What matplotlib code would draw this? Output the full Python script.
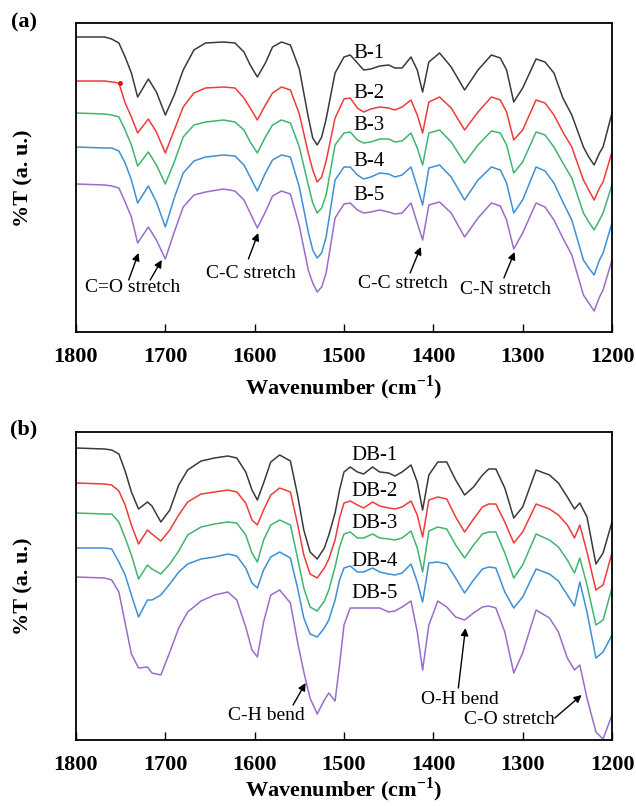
import matplotlib.pyplot as plt

plt.rcParams['font.family'] = 'Liberation Serif'
plt.rcParams['mathtext.fontset'] = 'custom'
plt.rcParams['mathtext.rm'] = 'Liberation Serif'
plt.rcParams['mathtext.bf'] = 'Liberation Serif:bold'

# ------------------------------------------- Panel (a) spectra (offset, a.u.) -------------------------------------- #
wn_a = [1800, 1768, 1760, 1752, 1745, 1738, 1731, 1719, 1710, 1700, 1690, 1680, 1668, 1655, 1635, 1622, 1612, 1605,
        1597, 1588, 1580, 1570, 1560, 1550, 1540, 1535, 1530, 1525, 1520, 1510, 1500, 1493, 1485, 1478, 1470, 1460,
        1450, 1443, 1435, 1425, 1418, 1412, 1405, 1393, 1380, 1365, 1350, 1335, 1325, 1318, 1310, 1300, 1285, 1275,
        1265, 1255, 1245, 1232, 1226, 1220, 1214, 1210, 1200]
b1 = [295, 295, 293, 289, 275, 259, 235, 253, 240, 217, 237, 262, 282, 289, 290, 289, 280, 267, 255, 269, 285, 290,
      287, 263, 215, 194, 187, 195, 213, 259, 275, 277, 269, 262, 263, 266, 267, 264, 264, 275, 262, 240, 270, 279,
      265, 242, 262, 277, 274, 262, 230, 244, 273, 270, 259, 234, 217, 185, 175, 167, 179, 185, 219]
b2 = [251, 251, 250, 249, 229, 215, 199, 213, 200, 179, 202, 225, 239, 244, 245, 244, 234, 224, 212, 227, 239, 245,
      242, 218, 179, 162, 150, 155, 171, 214, 233, 234, 224, 220, 223, 225, 224, 222, 225, 232, 217, 199, 230, 235,
      224, 202, 220, 235, 232, 220, 192, 202, 232, 229, 217, 200, 185, 152, 142, 132, 144, 150, 180]
b3 = [219, 218, 217, 215, 202, 187, 166, 180, 167, 148, 170, 195, 207, 210, 212, 210, 202, 190, 179, 195, 207, 212,
      209, 185, 147, 129, 119, 124, 137, 187, 199, 200, 192, 189, 190, 193, 193, 190, 191, 199, 184, 167, 199, 202,
      190, 169, 187, 201, 199, 187, 159, 170, 200, 197, 185, 169, 154, 119, 110, 102, 112, 119, 147]
b4 = [185, 184, 184, 181, 169, 152, 129, 146, 130, 105, 134, 159, 171, 175, 177, 176, 167, 155, 141, 159, 172, 177,
      175, 145, 100, 82, 74, 79, 95, 152, 165, 165, 157, 153, 155, 159, 158, 155, 157, 165, 145, 127, 164, 167,
      155, 132, 152, 165, 162, 149, 119, 132, 165, 161, 149, 130, 112, 72, 64, 57, 72, 79, 109]
b5 = [148, 147, 146, 144, 130, 115, 89, 105, 92, 73, 100, 125, 137, 140, 143, 141, 132, 119, 104, 120, 136, 141,
      138, 106, 62, 49, 40, 45, 59, 114, 128, 129, 122, 119, 120, 122, 120, 118, 119, 129, 109, 92, 127, 130,
      119, 95, 114, 129, 126, 112, 83, 99, 129, 125, 112, 94, 77, 37, 29, 21, 35, 42, 72]
names_a = ['B-1', 'B-2', 'B-3', 'B-4', 'B-5']
label_y_a = [278, 239, 206, 171, 136]

# ------------------------------------------- Panel (b) spectra (offset, a.u.) -------------------------------------- #
wn_b = [1800, 1768, 1760, 1752, 1745, 1738, 1730, 1720, 1715, 1705, 1695, 1685, 1675, 1660, 1645, 1630, 1620, 1610,
        1603, 1597, 1590, 1582, 1572, 1560, 1552, 1545, 1538, 1530, 1522, 1517, 1510, 1505, 1500, 1493, 1485, 1478,
        1468, 1460, 1450, 1443, 1435, 1425, 1418, 1412, 1405, 1395, 1385, 1375, 1365, 1355, 1345, 1338, 1330, 1320,
        1310, 1300, 1285, 1270, 1260, 1250, 1242, 1236, 1228, 1218, 1210, 1200]
db1 = [292, 291, 290, 286, 269, 248, 231, 238, 234, 218, 230, 255, 270, 279, 282, 284, 282, 268, 250, 240, 257, 278,
       285, 279, 245, 210, 188, 181, 192, 205, 227, 250, 268, 273, 268, 266, 273, 268, 267, 264, 268, 275, 258, 230,
       265, 278, 278, 260, 245, 253, 265, 271, 271, 252, 222, 233, 270, 265, 257, 243, 231, 237, 223, 176, 187, 218]
db2 = [257, 256, 255, 249, 235, 215, 196, 210, 206, 199, 210, 225, 238, 246, 248, 250, 248, 237, 220, 215, 230, 245,
       252, 248, 216, 185, 166, 162, 172, 181, 200, 222, 237, 239, 235, 232, 238, 234, 232, 231, 233, 239, 225, 203,
       240, 243, 241, 223, 208, 221, 233, 236, 236, 218, 197, 208, 236, 231, 225, 215, 202, 215, 188, 150, 155, 187]
db3 = [227, 226, 226, 218, 202, 185, 161, 175, 171, 166, 176, 189, 205, 213, 216, 218, 217, 205, 187, 178, 200, 215,
       220, 215, 182, 152, 133, 129, 139, 150, 173, 193, 206, 208, 202, 202, 206, 202, 201, 200, 202, 209, 192, 168,
       209, 213, 211, 195, 182, 195, 206, 208, 208, 187, 162, 175, 206, 200, 193, 180, 167, 182, 155, 115, 120, 152]
db4 = [192, 192, 191, 178, 165, 145, 123, 140, 140, 145, 156, 168, 176, 181, 183, 186, 184, 172, 157, 152, 170, 183,
       188, 182, 152, 122, 106, 103, 112, 120, 140, 160, 172, 174, 168, 168, 172, 168, 166, 165, 167, 176, 158, 138,
       177, 178, 176, 162, 147, 160, 171, 173, 172, 148, 132, 143, 171, 166, 159, 145, 134, 158, 128, 82, 88, 105]
db5 = [163, 162, 160, 148, 117, 86, 72, 73, 67, 65, 88, 112, 128, 139, 145, 148, 140, 113, 90, 83, 118, 145,
       150, 137, 98, 68, 42, 26, 40, 47, 39, 75, 115, 132, 132, 132, 132, 132, 128, 129, 133, 139, 108, 70,
       115, 139, 133, 123, 120, 127, 133, 134, 132, 108, 67, 87, 130, 122, 108, 82, 70, 75, 42, 8, 1, 25]
names_b = ['DB-1', 'DB-2', 'DB-3', 'DB-4', 'DB-5']
label_y_b = [284, 249, 216, 179, 146]

colors = ['#3a3a3a', '#ef3b3b', '#3fb56f', '#3d8fd6', '#9b6cc9']
ticks = [1800, 1700, 1600, 1500, 1400, 1300, 1200]

fig = plt.figure(figsize=(6.36, 8.06), dpi=100)
ax_a = fig.add_axes([76 / 636, 1 - 332 / 806, 536 / 636, 309 / 806])
ax_b = fig.add_axes([76 / 636, 1 - 740 / 806, 536 / 636, 308 / 806])

for c, y in zip(colors, [b1, b2, b3, b4, b5]):
    ax_a.plot(wn_a, y, color=c, lw=1.1, solid_joinstyle='round')
for c, y in zip(colors, [db1, db2, db3, db4, db5]):
    ax_b.plot(wn_b, y, color=c, lw=1.1, solid_joinstyle='round')
ax_a.plot([1751], [249], 'o', color='#e01010', ms=2.5)

for n, y in zip(names_a, label_y_a):
    ax_a.text(1489, y, n, fontsize=15, ha='left', va='center')
for n, y in zip(names_b, label_y_b):
    ax_b.text(1492, y, n, fontsize=15, ha='left', va='center')

arr = dict(arrowstyle='-|>', color='k', lw=1.0, mutation_scale=11, shrinkA=0, shrinkB=0)
# panel (a) assignments
ax_a.text(1737, 44, 'C=O stretch', fontsize=14, ha='center', va='center')
ax_a.annotate('', xy=(1730, 79), xytext=(1741, 52), arrowprops=arr)
ax_a.annotate('', xy=(1704, 72), xytext=(1717, 52), arrowprops=arr)
ax_a.text(1604, 59, 'C-C stretch', fontsize=14, ha='center', va='center')
ax_a.annotate('', xy=(1596, 99), xytext=(1607, 73), arrowprops=arr)
ax_a.text(1434, 49, 'C-C stretch', fontsize=14, ha='center', va='center')
ax_a.annotate('', xy=(1414, 85), xytext=(1426, 59), arrowprops=arr)
ax_a.text(1319, 43, 'C-N stretch', fontsize=14, ha='center', va='center')
ax_a.annotate('', xy=(1309, 80), xytext=(1321, 54), arrowprops=arr)
# panel (b) assignments
ax_b.text(1587, 25, 'C-H bend', fontsize=14, ha='center', va='center')
ax_b.annotate('', xy=(1543, 57), xytext=(1557, 35), arrowprops=arr)
ax_b.text(1370, 40, 'O-H bend', fontsize=14, ha='center', va='center')
ax_b.annotate('', xy=(1364, 112), xytext=(1372, 52), arrowprops=arr)
ax_b.text(1315, 21, 'C-O stretch', fontsize=14, ha='center', va='center')
ax_b.annotate('', xy=(1234, 45), xytext=(1264, 22), arrowprops=arr)

for ax, top in [(ax_a, 309), (ax_b, 308)]:
    ax.set_xlim(1800, 1200)
    ax.set_ylim(0, top)
    ax.set_xticks(ticks)
    ax.set_yticks([])
    ax.tick_params(axis='x', direction='in', length=6, width=1, labelsize=16, pad=11)
    for lab in ax.get_xticklabels():
        lab.set_fontweight('bold')
    for s in ax.spines.values():
        s.set_linewidth(1.3)

xlab = r'Wavenumber (cm$^{\mathbf{-1}}$)'
fig.text(344 / 636, 1 - 388 / 806, xlab, fontsize=16, fontweight='bold', ha='center', va='center')
fig.text(344 / 636, 1 - 790 / 806, xlab, fontsize=16, fontweight='bold', ha='center', va='center')
fig.text(23 / 636, 1 - 178 / 806, '%T (a. u.)', fontsize=16, fontweight='bold', rotation=90,
         ha='center', va='center')
fig.text(23 / 636, 1 - 586 / 806, '%T (a. u.)', fontsize=16, fontweight='bold', rotation=90,
         ha='center', va='center')
fig.text(24 / 636, 1 - 22 / 806, '(a)', fontsize=16, fontweight='bold', ha='center', va='center')
fig.text(24 / 636, 1 - 429 / 806, '(b)', fontsize=16, fontweight='bold', ha='center', va='center')

fig.savefig('out.png', dpi=100)
